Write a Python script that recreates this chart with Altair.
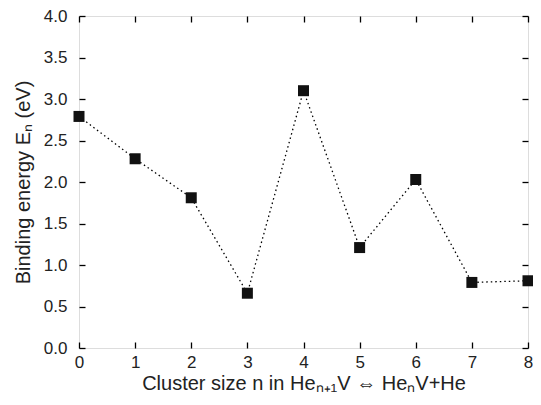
import altair as alt
import pandas as pd

cluster_size = [0, 1, 2, 3, 4, 5, 6, 7, 8]
binding_energy = [2.79, 2.28, 1.81, 0.66, 3.10, 1.21, 2.03, 0.79, 0.81]
x_ticks = [0, 1, 2, 3, 4, 5, 6, 7, 8]
y_ticks = [0.0, 0.5, 1.0, 1.5, 2.0, 2.5, 3.0, 3.5, 4.0]

df = pd.DataFrame({"n": cluster_size, "E": binding_energy})

FONT = "Liberation Sans"
x_title = "Cluster size n in Heₙ₊₁V ⇔ HeₙV+He"
y_title = "Binding energy Eₙ (eV)"

xscale = alt.Scale(domain=[0, 8], nice=False, zero=False)
yscale = alt.Scale(domain=[0, 4], nice=False, zero=False)

common_axis = dict(
    offset=-6, tickSize=6, tickWidth=1.3, tickColor="black", domain=False,
    grid=False, labelFont=FONT, titleFont=FONT, labelColor="#222",
    titleColor="#222", labelFontSize=17, titleFontSize=20,
    titleFontWeight="normal", labelOverlap=False, labelFlush=False,
)

base = alt.Chart(df)

line = base.mark_line(color="black", strokeDash=[1.5, 3], strokeWidth=1.3).encode(
    x=alt.X("n:Q", scale=xscale,
            axis=alt.Axis(orient="bottom", values=x_ticks, format="d",
                          labelPadding=6, title=x_title, titlePadding=3,
                          **common_axis)),
    y=alt.Y("E:Q", scale=yscale,
            axis=alt.Axis(orient="left", values=y_ticks, format=".1f",
                          labelPadding=12, title=y_title, titlePadding=10,
                          **common_axis)),
)

pts = base.mark_square(color="#111", size=121, opacity=1).encode(
    x=alt.X("n:Q", scale=xscale,
            axis=alt.Axis(orient="top", values=x_ticks, labels=False,
                          title=None, **common_axis)),
    y=alt.Y("E:Q", scale=yscale,
            axis=alt.Axis(orient="right", values=y_ticks, labels=False,
                          title=None, **common_axis)),
)

chart = (
    alt.layer(line, pts)
    .resolve_axis(x="independent", y="independent")
    .properties(
        width=449, height=332,
        autosize=alt.AutoSizeParams(type="none"),
        padding={"left": 71, "top": 8, "right": 5, "bottom": 49},
    )
    .configure_view(stroke="black", strokeWidth=1.5)
    .configure(background="white")
)

chart.save("out.html", embed_options={"renderer": "svg", "actions": False})
